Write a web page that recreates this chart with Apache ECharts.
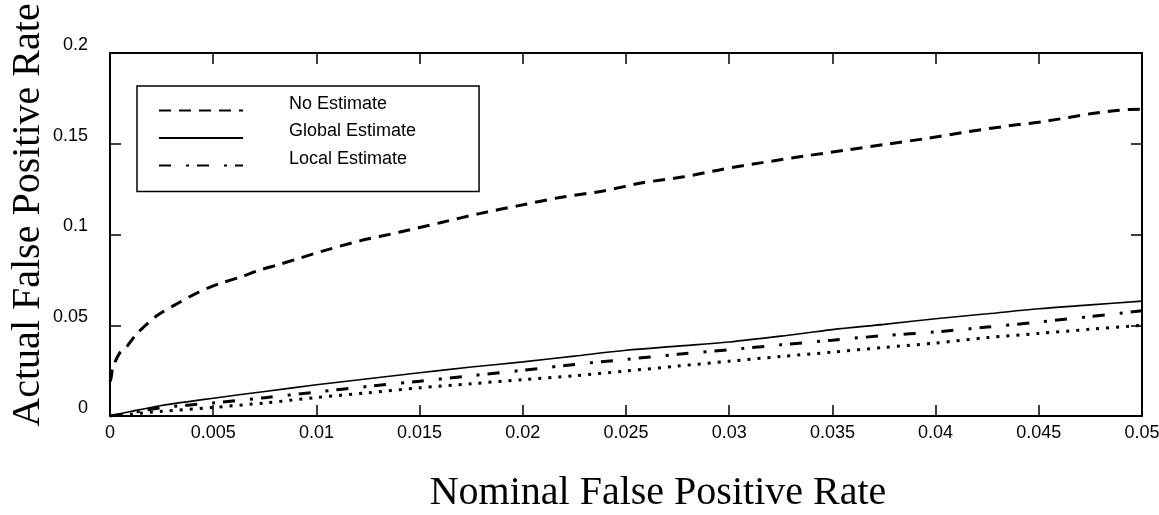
<!DOCTYPE html>
<html>
<head>
<meta charset="utf-8">
<script src="https://cdn.jsdelivr.net/npm/echarts@6/dist/echarts.min.js"></script>
<style>html,body{margin:0;padding:0;background:#fff}#c{width:1159px;height:515px}</style>
</head>
<body>
<div id="c"></div>
<script>
var xTickLabels = ['0','0.005','0.01','0.015','0.02','0.025','0.03','0.035','0.04','0.045','0.05'];
var yTickLabels = ['0','0.05','0.1','0.15','0.2'];

var noEstX = [0, 0.00005, 0.00013, 0.00045, 0.0008, 0.0013, 0.0023, 0.0034, 0.0043, 0.0053, 0.0063, 0.0072, 0.0082, 0.0092, 0.0102, 0.0121, 0.014, 0.016, 0.0179, 0.0198, 0.0218, 0.0239, 0.0258, 0.0278, 0.0297, 0.0316, 0.0337, 0.0356, 0.0376, 0.0396, 0.0415, 0.0435, 0.0454, 0.0475, 0.0494, 0.05];
var noEstY = [0.019, 0.0207, 0.0262, 0.0344, 0.038, 0.0454, 0.0555, 0.0628, 0.0683, 0.0729, 0.0765, 0.0802, 0.0835, 0.087, 0.0905, 0.0965, 0.1012, 0.1065, 0.1115, 0.1159, 0.1204, 0.124, 0.1285, 0.1318, 0.136, 0.1396, 0.1433, 0.1464, 0.1497, 0.153, 0.1565, 0.1598, 0.1625, 0.1665, 0.1689, 0.169];

var gridX = [0, 0.001, 0.0025, 0.005, 0.0075, 0.01, 0.0125, 0.015, 0.0175, 0.02, 0.0225, 0.025, 0.0275, 0.03, 0.0325, 0.035, 0.0375, 0.04, 0.0425, 0.045, 0.0475, 0.05];
var globalY = [0, 0.0025, 0.0058, 0.0098, 0.0135, 0.0172, 0.0205, 0.0238, 0.027, 0.0298, 0.033, 0.0362, 0.0385, 0.0408, 0.044, 0.0476, 0.0505, 0.0536, 0.0563, 0.0591, 0.0612, 0.0633];
var localY = [0, 0.0018, 0.0046, 0.0072, 0.0101, 0.0132, 0.0163, 0.0192, 0.0222, 0.0252, 0.0284, 0.0312, 0.034, 0.0365, 0.0392, 0.0418, 0.0443, 0.0463, 0.049, 0.0518, 0.0548, 0.058];
var dottedY = [0, 0.001, 0.0026, 0.0047, 0.0072, 0.0102, 0.0128, 0.0155, 0.0178, 0.02, 0.0222, 0.0248, 0.0275, 0.0302, 0.0328, 0.0352, 0.0378, 0.0402, 0.0432, 0.0455, 0.0478, 0.05];

var seriesNames = ['No Estimate', 'Global Estimate', 'Local Estimate', 'Other'];

function pairs(xs, ys) { return xs.map(function (x, i) { return [x, ys[i]]; }); }

var chart = echarts.init(document.getElementById('c'), null, {renderer: 'canvas'});
var labelFont = 'Liberation Sans, Arial, sans-serif';
var nameFont = 'Liberation Serif, Times New Roman, serif';
var axisLine = {show: true, onZero: false, lineStyle: {color: '#000', width: 2}};
var tick = {show: true, inside: true, length: 11, lineStyle: {color: '#000', width: 1.5}};

chart.setOption({
  backgroundColor: '#fff',
  animation: false,
  grid: {left: 110, right: 17, top: 53, bottom: 99, containLabel: false, outerBoundsMode: 'none'},
  legend: {
    data: seriesNames.slice(0, 3),
    orient: 'vertical',
    left: 137, top: 86,
    itemWidth: 84, itemHeight: 14, itemGap: 1,
    padding: [9, 63, 15, 21],
    borderColor: '#000', borderWidth: 1.5,
    backgroundColor: '#fff',
    selectedMode: false,
    itemStyle: {opacity: 0},
    formatter: function (n) { return '{t|' + n + '}\n{s| }'; },
    textStyle: {fontFamily: labelFont, fontSize: 18, color: '#000',
      rich: {
        t: {fontFamily: labelFont, fontSize: 18, lineHeight: 18, color: '#000', padding: [0, 0, 0, 41]},
        s: {fontSize: 4, lineHeight: 13}
      }}
  },
  xAxis: [{
    type: 'value', min: 0, max: 0.05, interval: 0.005,
    position: 'bottom',
    name: 'Nominal False Positive Rate', nameLocation: 'middle', nameGap: 57, nameMoveOverlap: false,
    nameTextStyle: {fontFamily: nameFont, fontSize: 40, color: '#000', padding: [0, 0, 0, 64]},
    axisLine: axisLine, axisTick: tick, splitLine: {show: false},
    axisLabel: {margin: 8, fontFamily: labelFont, fontSize: 18, color: '#000',
      formatter: function (v) { return xTickLabels[Math.round(v / 0.005)]; }}
  }, {
    type: 'value', min: 0, max: 0.05, interval: 0.005, position: 'top',
    axisLine: axisLine, axisTick: tick, axisLabel: {show: false}, splitLine: {show: false}
  }],
  yAxis: [{
    type: 'value', min: 0, max: 0.2, interval: 0.05,
    position: 'left',
    name: 'Actual False Positive Rate', nameLocation: 'middle', nameGap: 62, nameMoveOverlap: false,
    nameTextStyle: {fontFamily: nameFont, fontSize: 40, color: '#000', padding: [0, 0, 0, 39]},
    axisLine: axisLine, axisTick: tick, splitLine: {show: false},
    axisLabel: {margin: 22, fontFamily: labelFont, fontSize: 18, color: '#000', verticalAlign: 'bottom', lineHeight: 16,
      formatter: function (v) { return yTickLabels[Math.round(v / 0.05)]; }}
  }, {
    type: 'value', min: 0, max: 0.2, interval: 0.05, position: 'right',
    axisLine: axisLine, axisTick: tick, axisLabel: {show: false}, splitLine: {show: false}
  }],
  series: [{
    name: seriesNames[0], type: 'line', symbol: 'none', smooth: 0.3,
    data: pairs(noEstX, noEstY),
    lineStyle: {color: '#000', width: 3, type: [12, 8], cap: 'butt'}
  }, {
    name: seriesNames[1], type: 'line', symbol: 'none', smooth: 0.3,
    data: pairs(gridX, globalY),
    lineStyle: {color: '#000', width: 1.6, type: 'solid'}
  }, {
    name: seriesNames[2], type: 'line', symbol: 'none', smooth: 0.3,
    data: pairs(gridX, localY),
    lineStyle: {color: '#000', width: 3, type: [12, 15, 3, 8], cap: 'butt'}
  }, {
    name: seriesNames[3], type: 'line', symbol: 'none', smooth: 0.3,
    data: pairs(gridX, dottedY),
    lineStyle: {color: '#000', width: 3, type: [3, 7], cap: 'butt'}
  }]
});
</script>
</body>
</html>
